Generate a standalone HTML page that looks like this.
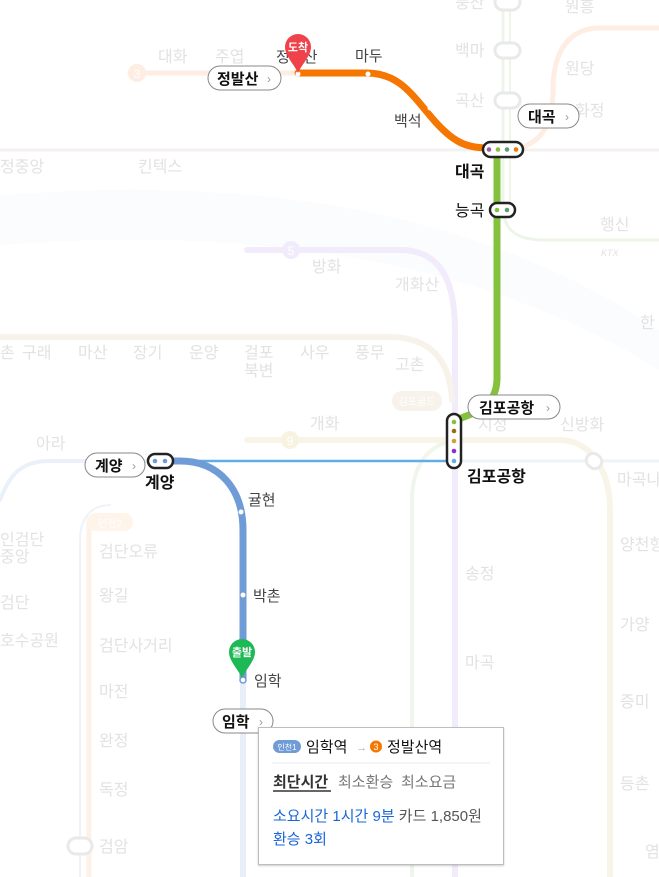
<!DOCTYPE html>
<html><head><meta charset="utf-8"><style>
html,body{margin:0;padding:0;background:#fff;}
body{width:659px;height:877px;overflow:hidden;position:relative;font-family:"Liberation Sans","Noto Sans CJK KR",sans-serif;}
svg text{font-family:"Liberation Sans","Noto Sans CJK KR",sans-serif;}
.box{position:absolute;left:258px;top:727px;width:244px;height:136px;background:#fff;border:1px solid #bdbdbd;box-shadow:0 1px 2px rgba(0,0,0,.2);}
</style></head><body>
<svg width="659" height="877" viewBox="0 0 659 877" style="position:absolute;left:0;top:0">
<path d="M0,195 C200,180 450,190 659,330 L659,370 C450,240 200,230 0,245 Z" fill="#fbfcfe"/>
<g fill="none" stroke-linecap="round">
<path d="M0,150 H659" stroke="#f5f0f0" stroke-width="3"/>
<path d="M503,0 V205 C503,230 515,240 545,240 H659" stroke="#ecf5e8" stroke-width="3"/>
<path d="M510,0 V205" stroke="#ecf5e8" stroke-width="2"/>
<path d="M520,148 C545,140 553,120 553,90 C553,50 570,28 600,28 H659" stroke="#feede2" stroke-width="5"/>
<path d="M130,73 H298" stroke="#feede2" stroke-width="5"/>
<path d="M247,250 H400 C440,250 455,280 455,330 V877" stroke="#f2ebfb" stroke-width="6"/>
<path d="M0,337 H390 C430,337 450,360 452,400" stroke="#f7f3ea" stroke-width="6"/>
<path d="M247,440 H560 C590,440 610,470 610,510 V877" stroke="#f8f4e8" stroke-width="6"/>
<path d="M455,440 C425,445 412,470 412,500 V877" stroke="#f0f6ec" stroke-width="4"/>
<path d="M0,500 C10,475 20,461 50,461 H148" stroke="#eaf1fa" stroke-width="4"/>
<path d="M461,461 H659" stroke="#edf3fa" stroke-width="3"/>
<path d="M80,877 V540 C80,520 90,505 110,505" stroke="#eff3f9" stroke-width="2"/>
<path d="M89,520 V877" stroke="#fdf2e7" stroke-width="5"/>
<path d="M243,680 V877" stroke="#e9eff8" stroke-width="6"/>
</g>
<rect x="586" y="454" width="16" height="14" rx="7" transform="rotate(40 594 461)" fill="#fff" stroke="#e9e9e9" stroke-width="3"/>
<rect x="68" y="838" width="24" height="16" rx="8" fill="#fff" stroke="#e9e9e9" stroke-width="3"/>
<rect x="495" y="-6" width="25" height="16" rx="8" fill="#fff" stroke="#e9e9e9" stroke-width="3"/>
<rect x="495" y="43" width="25" height="15" rx="7.5" fill="#fff" stroke="#e9e9e9" stroke-width="3"/>
<rect x="495" y="93" width="25" height="15" rx="7.5" fill="#fff" stroke="#e9e9e9" stroke-width="3"/>
<circle cx="137" cy="73" r="9" fill="#feede2"/><text x="137" y="78" font-size="12" fill="#fff" text-anchor="middle">3</text>
<circle cx="291" cy="250" r="9" fill="#f2ebfb"/><text x="291" y="255" font-size="12" fill="#fff" text-anchor="middle">5</text>
<circle cx="290" cy="440" r="9" fill="#f8f2e0"/><text x="290" y="445" font-size="12" fill="#fff" text-anchor="middle">9</text>
<rect x="392" y="391" width="50" height="20" rx="10" fill="#f8f3ea"/><text x="417" y="405" font-size="10" fill="#fff" text-anchor="middle">김포골드</text>
<rect x="87" y="513" width="46" height="18" rx="9" fill="#fef4ea"/><text x="110" y="527" font-size="10" fill="#fff" text-anchor="middle">인천2</text>
<g font-size="16" fill="#e2e2e2">
<text x="158" y="62">대화</text><text x="215" y="62">주엽</text>
<text x="0" y="172">정중앙</text><text x="138" y="172">킨텍스</text>
<text x="455" y="8">풍산</text><text x="455" y="56">백마</text><text x="455" y="106">곡산</text>
<text x="565" y="12">원흥</text><text x="565" y="74">원당</text><text x="575" y="116">화정</text>
<text x="600" y="230">행신</text><text x="601" y="256" font-size="9" font-style="italic">KTX</text><text x="640" y="328">한</text>
<text x="312" y="272">방화</text><text x="395" y="290">개화산</text>
<text x="0" y="358">촌</text><text x="22" y="358">구래</text><text x="78" y="358">마산</text><text x="133" y="358">장기</text><text x="189" y="358">운양</text><text x="244" y="358">걸포</text><text x="244" y="376">북변</text><text x="300" y="358">사우</text><text x="355" y="358">풍무</text><text x="395" y="370">고촌</text>
<text x="310" y="429">개화</text><text x="478" y="430">지정</text><text x="560" y="430">신방화</text>
<text x="36" y="449">아라</text><text x="617" y="485">마곡나</text>
<text x="0" y="545">인검단</text><text x="0" y="562">중앙</text><text x="0" y="608">검단</text><text x="0" y="646">호수공원</text>
<text x="99" y="557">검단오류</text><text x="99" y="601">왕길</text><text x="99" y="651">검단사거리</text><text x="99" y="697">마전</text><text x="99" y="746">완정</text><text x="99" y="795">독정</text><text x="99" y="852">검암</text>
<text x="465" y="579">송정</text><text x="465" y="668">마곡</text>
<text x="620" y="550">양천향</text><text x="620" y="630">가양</text><text x="620" y="707">증미</text><text x="620" y="789">등촌</text><text x="645" y="857">염</text>
</g>
<text x="355" y="61" font-size="15" fill="#444">마두</text>
<path d="M298,73 H366 C398,73 410,92 432,118 C455,145 468,148 492,148" fill="none" stroke="#f57600" stroke-width="7" stroke-linecap="round"/>
<path d="M497,157 V378 C497,405 478,412 456,420" fill="none" stroke="#84c13c" stroke-width="7"/>
<path d="M173,461 H447" stroke="#62ade6" stroke-width="2.5"/>
<path d="M165,461 H180 C220,461 243,490 243,530 V680" fill="none" stroke="#6f9bd6" stroke-width="7"/>
<g fill="#fff"><circle cx="368" cy="74" r="2.5"/><circle cx="430" cy="108" r="2.5"/><circle cx="241" cy="512" r="2.5"/><circle cx="243" cy="595" r="2.5"/><circle cx="298" cy="74" r="2.5"/></g>
<circle cx="243" cy="680" r="3" fill="#fff" stroke="#6f9bd6" stroke-width="1.5"/>
<rect x="483" y="142" width="40" height="15" rx="7.5" fill="#fff" stroke="#222" stroke-width="2.5"/>
<circle cx="489" cy="149.5" r="2.3" fill="#9a5aa8"/><circle cx="498" cy="149.5" r="2.3" fill="#84c13c"/><circle cx="507" cy="149.5" r="2.3" fill="#5a9e72"/><circle cx="516" cy="149.5" r="2.3" fill="#f57600"/>
<rect x="490" y="203" width="25" height="14" rx="7" fill="#fff" stroke="#222" stroke-width="2.5"/>
<circle cx="497" cy="210" r="2.3" fill="#84c13c"/><circle cx="507" cy="210" r="2.3" fill="#5a9e72"/>
<rect x="447" y="414" width="14" height="54" rx="7" fill="#fff" stroke="#222" stroke-width="2.5"/>
<circle cx="454" cy="422" r="2.3" fill="#84c13c"/><circle cx="454" cy="431" r="2.3" fill="#9a6d10"/><circle cx="454" cy="441" r="2.3" fill="#d0a030"/><circle cx="454" cy="451" r="2.3" fill="#8a2be2"/><circle cx="454" cy="461" r="2.3" fill="#62ade6"/>
<text x="455" y="216" font-size="16" fill="#111">능곡</text>
<text x="455" y="177" font-size="16" font-weight="bold" fill="#111">대곡</text>
<text x="467" y="482" font-size="16" font-weight="bold" fill="#111">김포공항</text>
<text x="145" y="488" font-size="16" font-weight="bold" fill="#111">계양</text>
<text x="394" y="126" font-size="15" fill="#444">백석</text>
<text x="248" y="505" font-size="15" fill="#444">귤현</text>
<text x="253" y="601" font-size="15" fill="#444">박촌</text>
<text x="254" y="686" font-size="15" fill="#444">임학</text>
<text x="276" y="62" font-size="15" fill="#444">정발산</text>
<g font-size="15" font-weight="bold" fill="#111">
<rect x="208" y="66" width="73" height="24" rx="12" fill="#fff" stroke="#888"/><text x="217" y="84">정발산</text><text x="267" y="83" font-size="12" font-weight="normal" fill="#999">›</text>
<rect x="518" y="104" width="61" height="24" rx="12" fill="#fff" stroke="#888"/><text x="528" y="122">대곡</text><text x="565" y="121" font-size="12" font-weight="normal" fill="#999">›</text>
<rect x="468" y="395" width="92" height="24" rx="12" fill="#fff" stroke="#888"/><text x="479" y="413">김포공항</text><text x="546" y="412" font-size="12" font-weight="normal" fill="#999">›</text>
<rect x="85" y="453" width="60" height="24" rx="12" fill="#fff" stroke="#888"/><text x="95" y="471">계양</text><text x="132" y="470" font-size="12" font-weight="normal" fill="#999">›</text>
<rect x="213" y="709" width="60" height="24" rx="12" fill="#fff" stroke="#888"/><text x="222" y="727">임학</text><text x="259" y="726" font-size="12" font-weight="normal" fill="#999">›</text>
</g>
<rect x="148" y="454" width="25" height="14" rx="7" fill="#ffffff" stroke="#222222" stroke-width="2.5"/>
<circle cx="155" cy="461" r="2.3" fill="#6f9bd6"/>
<circle cx="165" cy="461" r="2.3" fill="#6f9bd6"/>
<path d="M285,47 A13,13 0 1 1 311,47 C311,56 302,64 298,73 C294,64 285,56 285,47 Z" fill="#f0424a"/>
<text x="298" y="51" font-size="11" font-weight="bold" fill="#fff" text-anchor="middle">도착</text>
<path d="M229,652 A13,13 0 1 1 255,652 C255,661 246,669 242,678 C238,669 229,661 229,652 Z" fill="#1db954"/>
<text x="242" y="656" font-size="11" font-weight="bold" fill="#fff" text-anchor="middle">출발</text>
</svg>
<div class="box">
<svg width="244" height="136" style="position:absolute;left:0;top:0">
<rect x="14" y="12" width="28" height="13" rx="6.5" fill="#6f9bd6"/><text x="28" y="22" font-size="8" fill="#fff" text-anchor="middle">인천1</text>
<text x="47" y="24" font-size="15" fill="#111">임학역</text>
<text x="97" y="23" font-size="11" fill="#aaa">→</text>
<circle cx="117" cy="18.5" r="6" fill="#f57600"/><text x="117" y="22" font-size="9" fill="#fff" text-anchor="middle">3</text>
<text x="128" y="24" font-size="15" fill="#111">정발산역</text>
<line x1="13" y1="35" x2="231" y2="35" stroke="#e8e8e8"/>
<text x="14" y="59" font-size="15" font-weight="bold" fill="#333">최단시간</text>
<line x1="14" y1="63" x2="72" y2="63" stroke="#333" stroke-width="1.5"/>
<text x="79" y="59" font-size="15" fill="#777">최소환승</text>
<text x="142" y="59" font-size="15" fill="#777">최소요금</text>
<text x="14" y="93" font-size="15" fill="#1a66d9">소요시간 1시간 9분 <tspan fill="#555">카드 1,850원</tspan></text>
<text x="14" y="116" font-size="15" fill="#1a66d9">환승 3회</text>
</svg>
</div>
</body></html>
